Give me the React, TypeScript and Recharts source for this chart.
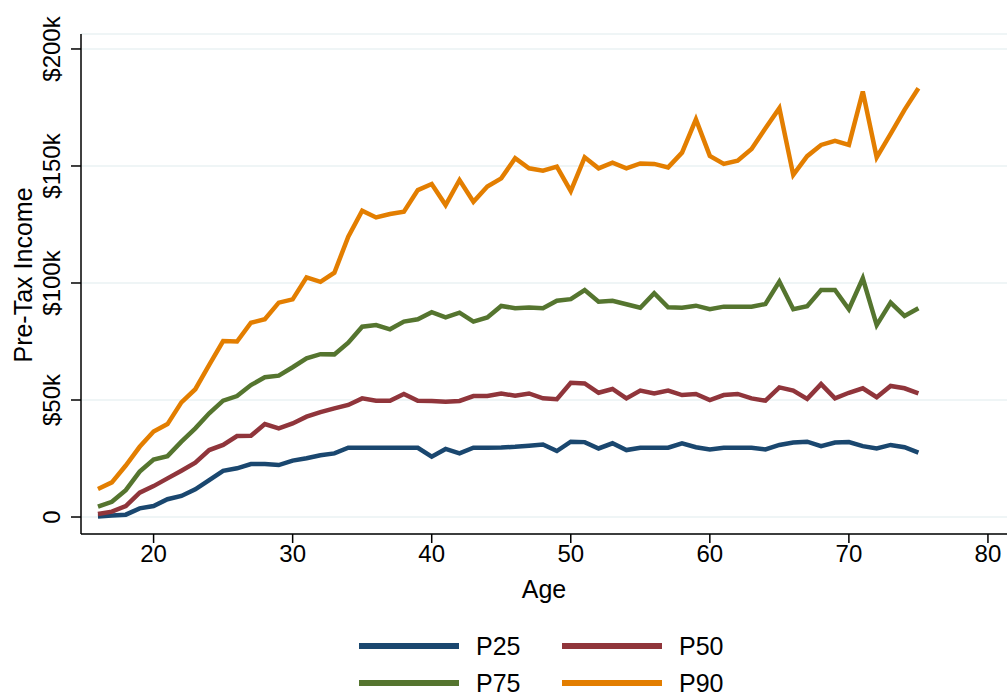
import React from 'react';
import { LineChart, Line, XAxis, YAxis, CartesianGrid } from 'recharts';

const ages = [
  16, 17, 18, 19, 20, 21, 22, 23, 24, 25, 26, 27, 28, 29, 30, 31, 32, 33, 34, 35,
  36, 37, 38, 39, 40, 41, 42, 43, 44, 45, 46, 47, 48, 49, 50, 51, 52, 53, 54, 55,
  56, 57, 58, 59, 60, 61, 62, 63, 64, 65, 66, 67, 68, 69, 70, 71, 72, 73, 74, 75,
];

// values in $ thousands
const p25 = [
  0.2, 0.6, 1.0, 3.7, 4.7, 7.6, 9.0, 11.8, 15.8, 19.7, 20.8, 22.6, 22.6, 22.2, 24.1, 25.1, 26.4, 27.2, 29.6, 29.6,
  29.6, 29.6, 29.6, 29.6, 25.8, 29.1, 27.2, 29.6, 29.6, 29.7, 30.0, 30.5, 31.0, 28.2, 32.2, 32.0, 29.3, 31.5, 28.6, 29.6,
  29.6, 29.6, 31.5, 29.8, 28.9, 29.6, 29.6, 29.6, 28.9, 30.8, 31.8, 32.2, 30.3, 31.8, 32.0, 30.3, 29.3, 30.8, 29.8, 27.5,
];
const p50 = [
  1.3, 2.3, 4.7, 10.4, 13.2, 16.5, 19.8, 23.2, 28.6, 30.8, 34.6, 34.7, 39.7, 37.9, 40.0, 42.9, 44.8, 46.4, 47.9, 50.7,
  49.7, 49.7, 52.6, 49.7, 49.6, 49.3, 49.6, 51.7, 51.7, 52.8, 51.8, 52.8, 50.7, 50.3, 57.4, 57.1, 53.1, 54.7, 50.7, 54.0,
  52.8, 54.0, 52.1, 52.6, 50.0, 52.1, 52.6, 50.7, 49.7, 55.4, 54.0, 50.5, 56.8, 50.7, 53.1, 55.0, 51.2, 56.0, 55.0, 52.8,
];
const p75 = [
  4.4, 6.5, 11.5, 19.4, 24.6, 26.0, 32.2, 37.9, 44.3, 49.7, 51.7, 56.4, 59.7, 60.4, 64.0, 67.8, 69.6, 69.5, 74.5, 81.3,
  82.0, 80.2, 83.5, 84.5, 87.5, 85.3, 87.3, 83.5, 85.3, 90.2, 89.2, 89.5, 89.2, 92.4, 93.1, 97.0, 92.0, 92.4, 90.9, 89.4,
  95.6, 89.6, 89.4, 90.3, 88.8, 89.9, 89.9, 89.9, 91.0, 100.6, 88.8, 90.1, 97.0, 97.0, 88.8, 102.0, 82.0, 91.6, 85.9, 89.2,
];
const p90 = [
  12.0, 14.8, 22.0, 30.0, 36.5, 39.7, 49.0, 54.6, 65.0, 75.2, 75.0, 83.0, 84.5, 91.6, 93.0, 102.4, 100.5, 104.4, 119.8, 130.9,
  128.0, 129.5, 130.5, 139.7, 142.3, 133.3, 144.0, 134.7, 141.2, 144.7, 153.3, 149.0, 148.0, 149.7, 139.3, 153.7, 149.0, 151.4, 149.0, 151.1,
  150.9, 149.4, 155.7, 169.9, 154.3, 150.9, 152.3, 157.3, 166.1, 174.7, 146.2, 154.2, 159.0, 160.7, 159.0, 181.8, 153.7, 163.7, 174.0, 183.2,
];

const xTicks = [20, 30, 40, 50, 60, 70, 80];
const yTicks = [0, 50, 100, 150, 200];
const yTickLabels = ['0', '$50k', '$100k', '$150k', '$200k'];

const series = [
  { key: 'p25', name: 'P25', color: '#1a476f' },
  { key: 'p50', name: 'P50', color: '#90353b' },
  { key: 'p75', name: 'P75', color: '#55752f' },
  { key: 'p90', name: 'P90', color: '#e37e00' },
];

const data = ages.map((age, i) => ({ age, p25: p25[i], p50: p50[i], p75: p75[i], p90: p90[i] }));

const FONT = '"Liberation Sans", Arial, Helvetica, sans-serif';

function XTick({ x, payload }: any) {
  return (
    <text x={x} y={562} textAnchor="middle" fontSize={24} fill="#000" fontFamily={FONT}>
      {payload.value}
    </text>
  );
}

function YTick({ y, payload }: any) {
  const idx = yTicks.indexOf(payload.value);
  const cx = 60;
  return (
    <text x={cx} y={y} transform={`rotate(-90 ${cx} ${y})`} textAnchor="middle" fontSize={24} fill="#000" fontFamily={FONT}>
      {yTickLabels[idx]}
    </text>
  );
}

export default function App() {
  return (
    <div
      style={{
        position: 'absolute',
        left: 0,
        top: 0,
        width: 1007,
        height: 696,
        overflow: 'hidden',
        background: '#fff',
        fontFamily: FONT,
      }}
    >
      <LineChart width={1007} height={696} data={data} margin={{ top: 34, right: 0, left: 0, bottom: 102 }}>
        <CartesianGrid vertical={false} stroke="#eaf2f3" strokeWidth={1.5} />
        <XAxis
          dataKey="age"
          type="number"
          domain={[14.78, 81.37]}
          ticks={xTicks}
          allowDataOverflow
          height={60}
          stroke="#000"
          strokeWidth={1.5}
          tickSize={9}
          tick={<XTick />}
          label={{
            content: ({ viewBox }: any) => (
              <text x={viewBox.x + viewBox.width / 2} y={598} textAnchor="middle" fontSize={25} fill="#000" fontFamily={FONT}>
                Age
              </text>
            ),
          }}
        />
        <YAxis
          type="number"
          domain={[-7.26, 206.4]}
          ticks={yTicks}
          allowDataOverflow
          width={81}
          stroke="#000"
          strokeWidth={1.5}
          tickSize={10}
          tick={<YTick />}
          label={{
            content: () => (
              <text x={32} y={275} transform="rotate(-90 32 275)" textAnchor="middle" fontSize={25} fill="#000" fontFamily={FONT}>
                Pre-Tax Income
              </text>
            ),
          }}
        />
        {series.map((s) => (
          <Line
            key={s.key}
            dataKey={s.key}
            name={s.name}
            stroke={s.color}
            strokeWidth={4.5}
            dot={false}
            activeDot={false}
            strokeLinejoin="miter"
            isAnimationActive={false}
          />
        ))}
      </LineChart>
      {series.map((s, i) => {
        const col = i % 2;
        const row = Math.floor(i / 2);
        const left = col === 0 ? 359 : 562;
        const top = row === 0 ? 646 : 683;
        return (
          <div key={s.key}>
            <div style={{ position: 'absolute', left, top: top - 3, width: 100, height: 6, background: s.color }} />
            <div style={{ position: 'absolute', left: left + 117, top: top - 15, fontSize: 25, lineHeight: '30px', color: '#000' }}>
              {s.name}
            </div>
          </div>
        );
      })}
    </div>
  );
}
